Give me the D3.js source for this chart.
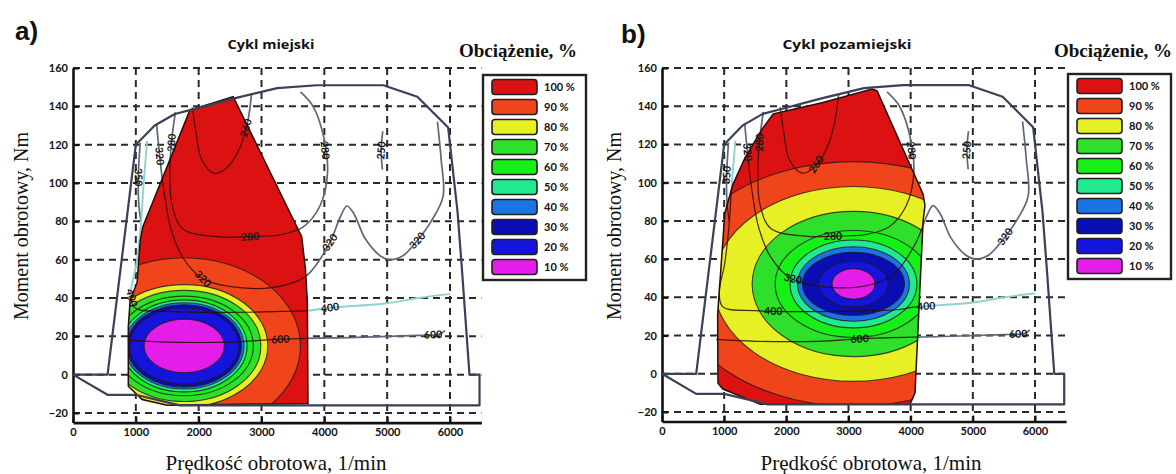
<!DOCTYPE html>
<html>
<head>
<meta charset="utf-8">
<script src="https://cdn.jsdelivr.net/npm/d3@7"></script>
<style>
  body { margin: 0; background: #fff; }
  svg { display: block; }
</style>
</head>
<body>
<svg id="chart" width="1176" height="474"></svg>
<script>
// Engine load share (%) shown in the legend, strongest first
const loadLevels = [100, 90, 80, 70, 60, 50, 40, 30, 20, 10];
const loadColors = ["#dc1212", "#f0441a", "#e6f024", "#2ee02a", "#16f016",
                    "#22e890", "#1c74e4", "#0a0cb4", "#1414dc", "#e41ee8"];

const rpmTicks = [0, 1000, 2000, 3000, 4000, 5000, 6000];
const torqueTicks = [-20, 0, 20, 40, 60, 80, 100, 120, 140, 160];

// Full-load torque curve and motoring limit, [rpm, Nm]
const envelope = [[0, 0], [550, 0], [1000, 120], [1300, 130], [1620, 136], [1860, 138],
  [2550, 144], [3250, 149.5], [3880, 151], [4940, 151], [5480, 145], [5970, 129],
  [6120, 85], [6190, 55], [6310, 0], [6470, 0], [6470, -16], [1700, -16],
  [1000, -10.5], [550, -10.5], [0, 0]];

// Specific fuel consumption isolines, g/kWh
const isoValues = [250, 260, 280, 320, 350, 400, 600];
const iso250 = [[4930, 127], [4905, 117], [4925, 107]];
const iso260 = [[1900, 139.5], [1960, 126], [2050, 112], [2250, 105], [2450, 108],
  [2650, 118], [2780, 132], [2840, 146]];
const iso280 = [[1630, 137], [1570, 122], [1540, 104], [1580, 88], [1750, 76], [2300, 72],
  [2800, 72], [3300, 73], [3660, 77], [3930, 88], [4050, 105], [3990, 124], [3820, 140], [3620, 147.5]];
const iso320 = [[1330, 131], [1380, 114], [1450, 95], [1560, 76], [1750, 61], [2070, 50],
  [2820, 45], [3400, 47], [3730, 52], [4090, 69], [4250, 82], [4360, 88], [4470, 84],
  [4650, 71], [4890, 62], [5050, 60], [5250, 62], [5480, 70], [5700, 80], [5890, 93],
  [5860, 112], [5800, 132]];
const iso350 = [[1070, 121], [1040, 104], [1045, 90], [1080, 80]];
const iso400 = [[1180, 122], [1120, 98], [1080, 78], [1010, 58], [920, 42], [980, 35],
  [1500, 33], [2500, 32.5], [3300, 33], [3770, 33.5], [4090, 35], [4940, 37], [5500, 40],
  [5840, 41.5], [6000, 42]];
const iso600 = [[870, 18], [1500, 17], [2500, 17], [3300, 18.5], [4500, 19.5], [5500, 20.5],
  [5820, 21], [5920, 23]];
const isoLines = [iso250, iso260, iso280, iso320, iso350, iso400, iso600];

// Operating area covered by each driving cycle, [rpm, Nm]
const regionCity = [[880, -6], [880, 25], [910, 39], [1020, 48], [1070, 70], [1110, 77],
  [1860, 138], [2200, 141.5], [2550, 145], [3640, 72], [3700, 55], [3730, 38], [3740, -15],
  [1500, -16], [1100, -13]];
const regionRoad = [[900, -5], [895, 31], [1010, 84], [1140, 99], [1335, 113], [1610, 128],
  [1790, 136], [2590, 142], [3380, 149], [3460, 148], [4200, 94], [4230, 88], [4200, 80],
  [4070, -10], [3990, -16], [1580, -16], [980, -8]];

// Load bands 90 % ... 10 %: centre [rpm, Nm] and half-widths in rpm / Nm
const bandCentreCity = [1770, 15];
const bandRxCity = [1850, 1330, 1220, 1100, 1000, 950, 910, 870, 640];
const bandRyCity = [46, 32, 29, 26, 24, 22.5, 21.5, 20, 14];
const bandCentreRoad = [3080, 47];
const bandRxRoad = [2900, 2250, 1630, 1260, 1020, 900, 820, 560, 345];
const bandRyRoad = [64, 51, 38, 28, 23, 19.5, 16.5, 12, 8];

// Isoline labels: [value, rpm, Nm]
const labelsCity = [[260, 2830, 128], [280, 1570, 121], [280, 3990, 117], [280, 2820, 72],
  [320, 1380, 114], [320, 2070, 50], [320, 4090, 69], [320, 5480, 70], [350, 1040, 103],
  [250, 4910, 117], [400, 4090, 35], [400, 930, 40], [600, 3300, 18.5], [600, 5730, 21]];
const labelsRoad = [[280, 1570, 121], [320, 1400, 116], [350, 1040, 104], [260, 2650, 106],
  [280, 4040, 117], [250, 4910, 117], [280, 2750, 73], [320, 2100, 49], [400, 1790, 33],
  [600, 3180, 18], [320, 5510, 72], [400, 4250, 35], [600, 5730, 21]];

const panels = [
  { key: "city", letter: "a)", title: "Cykl miejski", xr: [73, 450], yr: [413, 68],
    region: regionCity, centre: bandCentreCity, rx: bandRxCity, ry: bandRyCity,
    labels: labelsCity, legend: [483, 75], letterAt: [15, 40], titleAt: [271, 49], titleW: 87,
    xTitleAt: [276, 470], yTitleAt: [28, 226], legendTitleAt: [518, 57] },
  { key: "road", letter: "b)", title: "Cykl pozamiejski", xr: [662, 1035], yr: [412, 68],
    region: regionRoad, centre: bandCentreRoad, rx: bandRxRoad, ry: bandRyRoad,
    labels: labelsRoad, legend: [1068, 74], letterAt: [621, 43], titleAt: [847, 49], titleW: 129,
    xTitleAt: [871, 470], yTitleAt: [621, 226], legendTitleAt: [1113, 57] }
];

const svg = d3.select("#chart");
const defs = svg.append("defs");

function drawPanel(p) {
  const x = d3.scaleLinear().domain([0, 6000]).range(p.xr);
  const y = d3.scaleLinear().domain([-20, 160]).range(p.yr);
  const g = svg.append("g").attr("class", "panel-" + p.key);

  const lin = d3.line().x(d => x(d[0])).y(d => y(d[1]));
  const smooth = d3.line().x(d => x(d[0])).y(d => y(d[1])).curve(d3.curveCatmullRom.alpha(0.5));

  // dashed grid
  const grid = g.append("g").attr("stroke", "#2a2a2a").attr("stroke-width", 2)
    .attr("stroke-dasharray", "7,5");
  grid.selectAll("line.h").data(torqueTicks).join("line")
    .attr("x1", x(0)).attr("x2", x(6500)).attr("y1", d => y(d)).attr("y2", d => y(d));
  grid.selectAll("line.v").data(rpmTicks.filter(d => d > 0)).join("line")
    .attr("x1", d => x(d)).attr("x2", d => x(d)).attr("y1", y(160)).attr("y2", y(-25));

  // axes
  const xAxisScale = d3.scaleLinear().domain([0, 6500]).range([x(0), x(6500)]);
  const yAxisScale = d3.scaleLinear().domain([-25, 160]).range([y(-25), y(160)]);
  const xa = g.append("g").attr("transform", `translate(0,${y(-25)})`)
    .call(d3.axisBottom(xAxisScale).tickValues(rpmTicks).tickFormat(d3.format("d"))
      .tickSizeInner(-6).tickSizeOuter(0).tickPadding(6));
  const ya = g.append("g").attr("transform", `translate(${x(0)},0)`)
    .call(d3.axisLeft(yAxisScale).tickValues(torqueTicks).tickFormat(d3.format("d"))
      .tickSizeInner(-6).tickSizeOuter(0).tickPadding(5));
  [xa, ya].forEach(a => {
    a.select(".domain").attr("stroke", "#111").attr("stroke-width", 2.6);
    a.selectAll(".tick line").attr("stroke", "#111").attr("stroke-width", 2);
    a.selectAll(".tick text").attr("fill", "#111")
      .style("font", "700 11px Lato, 'Liberation Sans', sans-serif");
  });

  // isolines outside the cycle area
  const isoGrey = g.append("g").attr("fill", "none");
  isoLines.forEach((pts, i) => {
    isoGrey.append("path").attr("d", smooth(pts))
      .attr("stroke", isoValues[i] === 400 ? "#8fd2cc" : "#5e6679")
      .attr("stroke-width", isoValues[i] === 400 ? 1.9 : 1.7);
  });

  // load bands clipped to the cycle area
  const clipId = "clip-" + p.key;
  defs.append("clipPath").attr("id", clipId).append("path").attr("d", lin(p.region) + "Z");
  const bands = g.append("g").attr("clip-path", `url(#${clipId})`);
  bands.append("path").attr("d", lin(p.region) + "Z").attr("fill", loadColors[0]);
  const cx = p.centre[0], cy = p.centre[1];
  const bandData = loadLevels.slice(1).map((lv, i) => ({ lv, color: loadColors[i + 1], rx: p.rx[i], ry: p.ry[i] }));
  bands.selectAll("ellipse").data(bandData).join("ellipse")
    .attr("cx", x(cx)).attr("cy", y(cy))
    .attr("rx", d => x(cx + d.rx) - x(cx))
    .attr("ry", d => y(cy) - y(cy + d.ry))
    .attr("fill", d => d.color)
    .attr("stroke", "#1c1c1c").attr("stroke-opacity", 0.8).attr("stroke-width", 1.1);
  // isolines over the bands
  isoLines.forEach(pts => {
    bands.append("path").attr("d", smooth(pts)).attr("fill", "none")
      .attr("stroke", "#2a0c0c").attr("stroke-width", 1.2).attr("stroke-opacity", 0.85);
  });
  g.append("path").attr("d", lin(p.region) + "Z").attr("fill", "none")
    .attr("stroke", "#2a0a0a").attr("stroke-width", 1.5);

  // engine envelope
  g.append("path").attr("d", lin(envelope)).attr("fill", "none")
    .attr("stroke", "#3a4056").attr("stroke-width", 2.2).attr("stroke-linejoin", "round");

  // isoline labels, aligned with the nearest segment
  const lab = g.append("g").style("font", "700 10.5px Lato, 'Liberation Sans', sans-serif")
    .attr("fill", "#161616").attr("text-anchor", "middle");
  p.labels.forEach(([v, r, t]) => {
    const pts = isoLines[isoValues.indexOf(v)].map(d => [x(d[0]), y(d[1])]);
    const ax = x(r), ay = y(t);
    let best = { d: Infinity };
    for (let i = 0; i < pts.length - 1; i++) {
      const [x1, y1] = pts[i], [x2, y2] = pts[i + 1];
      const dx = x2 - x1, dy = y2 - y1, len2 = dx * dx + dy * dy;
      const u = Math.max(0, Math.min(1, ((ax - x1) * dx + (ay - y1) * dy) / len2));
      const px = x1 + u * dx, py = y1 + u * dy;
      const dist = Math.hypot(ax - px, ay - py);
      if (dist < best.d) {
        let ang = Math.atan2(dy, dx) * 180 / Math.PI;
        if (ang > 90) ang -= 180;
        if (ang < -90) ang += 180;
        best = { d: dist, px, py, ang };
      }
    }
    lab.append("text").attr("transform", `translate(${best.px},${best.py}) rotate(${best.ang})`)
      .attr("dy", "0.35em").text(v);
  });

  // titles
  g.append("text").attr("x", p.letterAt[0]).attr("y", p.letterAt[1]).text(p.letter)
    .style("font", "700 26px 'Liberation Sans', Arial, sans-serif").attr("fill", "#111");
  g.append("text").attr("x", p.titleAt[0]).attr("y", p.titleAt[1]).attr("text-anchor", "middle")
    .attr("textLength", p.titleW).attr("lengthAdjust", "spacingAndGlyphs")
    .style("font", "700 13px 'Open Sans', 'Liberation Sans', sans-serif").attr("fill", "#111").text(p.title);
  g.append("text").attr("x", p.xTitleAt[0]).attr("y", p.xTitleAt[1]).attr("text-anchor", "middle")
    .style("font", "400 21px 'Liberation Serif', 'DejaVu Serif', serif").attr("fill", "#111")
    .text("Prędkość obrotowa, 1/min");
  g.append("text").attr("transform", `translate(${p.yTitleAt[0]},${p.yTitleAt[1]}) rotate(-90)`)
    .attr("text-anchor", "middle")
    .style("font", "400 20px 'Liberation Serif', 'DejaVu Serif', serif").attr("fill", "#111")
    .text("Moment obrotowy, Nm");

  // legend
  const [lx, ly] = p.legend;
  g.append("text").attr("x", p.legendTitleAt[0]).attr("y", p.legendTitleAt[1]).attr("text-anchor", "middle")
    .style("font", "700 19px 'Liberation Serif', 'DejaVu Serif', serif").attr("fill", "#111")
    .text("Obciążenie, %");
  const lg = g.append("g").attr("transform", `translate(${lx},${ly})`);
  lg.append("rect").attr("width", 103).attr("height", 205).attr("fill", "#fff")
    .attr("stroke", "#222").attr("stroke-width", 2.4);
  const items = lg.selectAll("g.item").data(loadLevels).join("g")
    .attr("transform", (d, i) => `translate(9,${12 + i * 20})`);
  items.append("rect").attr("y", -7.5).attr("width", 45).attr("height", 15).attr("rx", 3)
    .attr("fill", (d, i) => loadColors[i]).attr("stroke", "#202020").attr("stroke-width", 1.6);
  items.append("text").attr("x", 52).attr("dy", "0.36em")
    .style("font", "700 11px Lato, 'Liberation Sans', sans-serif").attr("fill", "#111")
    .text(d => d + " %");
}

panels.forEach(drawPanel);
</script>
</body>
</html>
